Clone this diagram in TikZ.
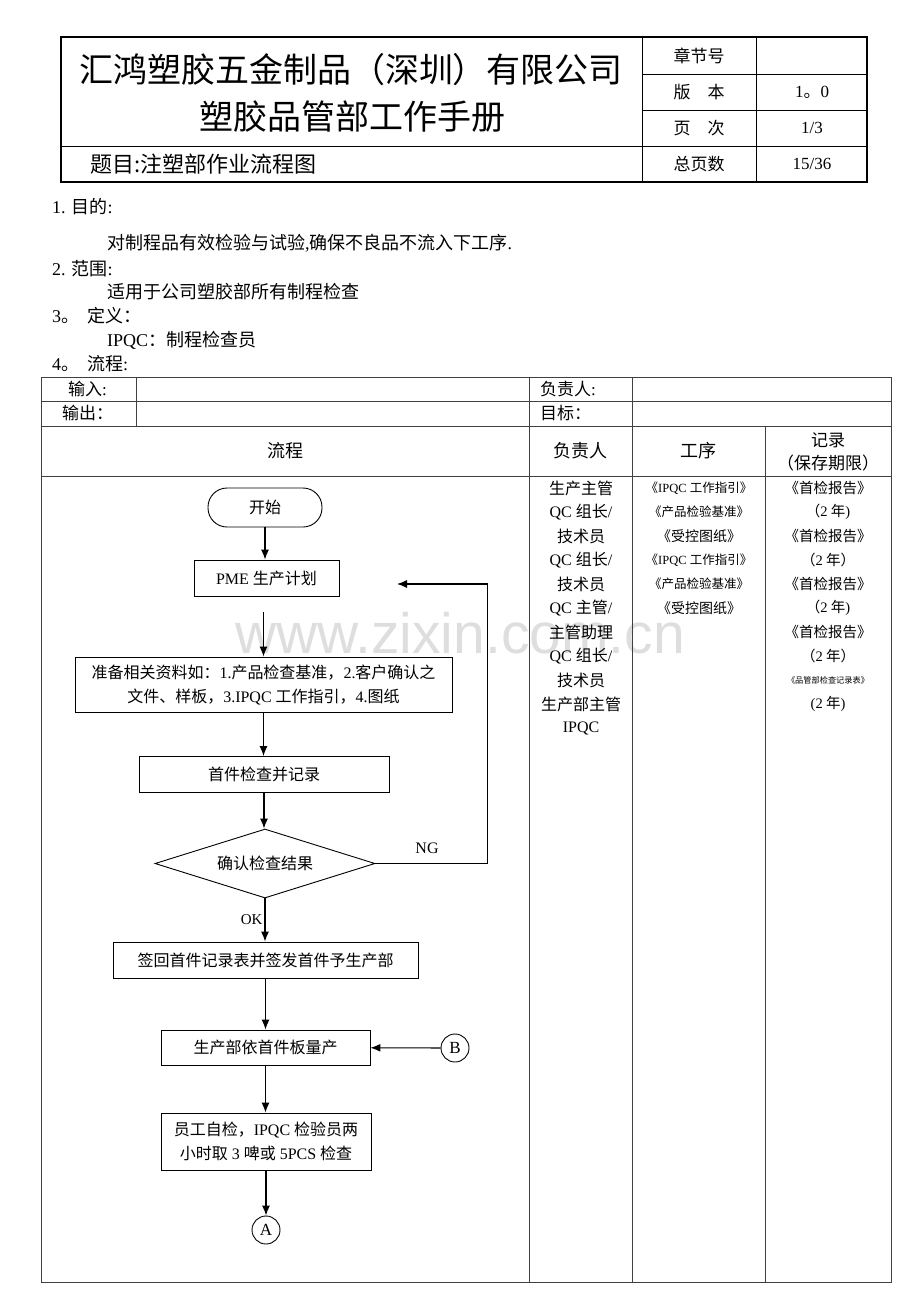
\documentclass[tikz,border=0pt]{standalone}
\usepackage{fontspec}
\setmainfont{Liberation Serif}
\newfontfamily\cjk{Noto Sans CJK SC}
\newfontfamily\filigrana{Liberation Sans}
\usetikzlibrary{shapes.geometric, arrows.meta, positioning}
\newcommand{\zh}[1]{{\cjk #1}}
\newcommand{\la}[1]{{\rmfamily #1}}
\newcommand{\fsz}[2]{\fontsize{#1}{#2}\selectfont}

\begin{document}
\begin{tikzpicture}[x=1pt, y=-1pt,
    tabella/.style={line width=0.9pt, black!75},
    blocco/.style={draw, line width=0.9pt, align=center, inner sep=0pt, font=\cjk\fsz{16}{24}},
    terminale/.style={blocco, rounded corners=19pt},
    decisione/.style={blocco, diamond, aspect=3.2},
    connettore/.style={draw, circle, line width=0.9pt, minimum size=28pt, inner sep=0pt, font=\fsz{17}{17}},
    freccia/.style={-{Latex[length=10pt, width=8pt]}, line width=1.1pt},
    testo/.style={anchor=west, inner sep=0pt, font=\fsz{18}{22}},
    cella/.style={inner sep=0pt, font=\cjk\fsz{17}{20}},
    etichetta/.style={inner sep=2pt, font=\fsz{15}{15}}]
    \useasboundingbox (0,0) rectangle (920,1302);

    % Filigrana
    \node[font=\filigrana\fsz{57}{57}, text=black!13] (marchio) at (460,633) {www.zixin.com.cn};

    % Intestazione
    \draw[line width=2.4pt] (61,37) rectangle (867,182);
    \draw[line width=1pt] (642,37) -- (642,182) (756,37) -- (756,182)
        (642,74) -- (867,74) (642,110) -- (867,110) (61,146) -- (867,146);
    \node[font=\cjk\fsz{34}{40}] (ditta) at (351,70) {汇鸿塑胶五金制品（深圳）有限公司};
    \node[font=\cjk\fsz{34}{40}] (manuale) at (352,117) {塑胶品管部工作手册};
    \node[font=\cjk\fsz{22}{26}, anchor=west, inner sep=0pt] (titolo) at (90,164) {题目:注塑部作业流程图};
    \node[cella] (capitolo) at (699,56) {章节号};
    \node[cella] (versione) at (699,92) {版　本};
    \node[cella] (pagina) at (699,128) {页　次};
    \node[cella] (totale) at (699,164) {总页数};
    \node[cella, font=\fsz{17}{20}] (versioneval) at (812,92) {1\zh{。}0};
    \node[cella, font=\fsz{17}{20}] (paginaval) at (812,128) {1/3};
    \node[cella, font=\fsz{17}{20}] (totaleval) at (812,164) {15/36};

    % Testo
    \node[testo] (scopo) at (52,207) {1. \zh{目的}:};
    \node[testo] (scopotxt) at (107,243) {\zh{对制程品有效检验与试验},\zh{确保不良品不流入下工序}.};
    \node[testo] (ambito) at (52,269) {2. \zh{范围}:};
    \node[testo] (ambitotxt) at (107,292) {\zh{适用于公司塑胶部所有制程检查}};
    \node[testo] (definizione) at (52,316) {3\zh{。}\hspace{8pt}\zh{定义：}};
    \node[testo] (definizionetxt) at (107,340) {IPQC\zh{：制程检查员}};
    \node[testo] (flusso) at (52,364) {4\zh{。}\hspace{8pt}\zh{流程}:};

    % Tabella
    \draw[tabella] (41,377) rectangle (891,1282);
    \draw[tabella] (41,401) -- (891,401) (41,426) -- (891,426) (41,476) -- (891,476);
    \draw[tabella] (136,377) -- (136,426) (529,377) -- (529,1282)
        (632,377) -- (632,1282) (765,426) -- (765,1282);
    \node[testo, font=\fsz{17}{20}] (ingresso) at (68,389) {\zh{输入}:};
    \node[testo, font=\cjk\fsz{17}{20}] (uscita) at (62,413) {输出：};
    \node[testo, font=\fsz{17}{20}] (resp) at (540,389) {\zh{负责人}:};
    \node[testo, font=\cjk\fsz{17}{20}] (obiettivo) at (540,413) {目标：};
    \node[cella, font=\cjk\fsz{18}{20}] (hflusso) at (285,451) {流程};
    \node[cella, font=\cjk\fsz{18}{20}] (hresp) at (580,451) {负责人};
    \node[cella, font=\cjk\fsz{18}{20}] (hproc) at (698,451) {工序};
    \node[cella, font=\cjk\fsz{17}{20}] (hreg) at (828,440) {记录};
    \node[cella, font=\cjk\fsz{17}{20}] (hperiodo) at (828,463) {（保存期限）};

    % Colonne
    \foreach \voce [count=\i from 0] in {生产主管, \la{QC }组长\la{/}, 技术员,
        \la{QC }组长\la{/}, 技术员, \la{QC }主管\la{/}, 主管助理,
        \la{QC }组长\la{/}, 技术员, 生产部主管, \la{IPQC}}
        \node[cella, font=\cjk\fsz{16}{20}] (resp-\i) at (581,488+24*\i) {\voce};
    \foreach \fs/\voce [count=\i from 0] in {12.5/《\la{IPQC }工作指引》, 12.5/《产品检验基准》,
        14/《受控图纸》, 12.5/《\la{IPQC }工作指引》, 12.5/《产品检验基准》, 14/《受控图纸》}
        \node[cella, font=\cjk\fsz{\fs}{20}] (proc-\i) at (699,488+24*\i) {\voce};
    \foreach \fs/\voce [count=\i from 0] in {14.5/《首检报告》, 14.5/（\la{2} 年\la{)}, 14.5/《首检报告》,
        14.5/（\la{2} 年）, 14.5/《首检报告》, 14.5/（\la{2} 年\la{)}, 14.5/《首检报告》,
        14.5/（\la{2} 年）, 8.2/《品管部检查记录表》, 14.5/\la{(2} 年\la{)}}
        \node[cella, font=\cjk\fsz{\fs}{20}] (reg-\i) at (828,488+24*\i) {\voce};

    % Diagramma di flusso
    \node[terminale, minimum width=114pt, minimum height=39pt] (inizio) at (265,507.5) {开始};
    \node[blocco, minimum width=145pt, minimum height=36pt] (piano) at (266.5,578) {\la{PME }生产计划};
    \node[blocco, minimum width=377pt, minimum height=55pt] (prep) at (263.5,684.5)
        {准备相关资料如：\la{1.}产品检查基准，\la{2.}客户确认之\\文件、样板，\la{3.IPQC }工作指引，\la{4.}图纸};
    \node[blocco, minimum width=250pt, minimum height=36pt] (primo) at (264,774.5) {首件检查并记录};
    \node[decisione, minimum width=220pt, minimum height=69pt] (verifica) at (265,863.5) {确认检查结果};
    \node[blocco, minimum width=305pt, minimum height=36pt] (firma) at (265.5,960) {签回首件记录表并签发首件予生产部};
    \node[blocco, minimum width=209pt, minimum height=35pt] (produzione) at (265.5,1047.5) {生产部依首件板量产};
    \node[blocco, minimum width=210pt, minimum height=57pt] (controllo) at (266,1141.5)
        {员工自检，\la{IPQC }检验员两\\小时取\la{ 3 }啤或\la{ 5PCS }检查};
    \node[connettore] (connB) at (455,1048) {B};
    \node[connettore] (connA) at (266,1230) {A};

    % Frecce
    \draw[freccia] (inizio) -- (inizio |- piano.north);
    \coordinate (avvio) at ([yshift=-16pt]piano.south);
    \draw[freccia] (prep.north |- avvio) -- (prep.north);
    \draw[freccia] (prep) -- (prep |- primo.north);
    \draw[freccia] (primo) -- (primo |- verifica.north);
    \coordinate (rientro) at (397,584);
    \draw[freccia] (verifica.east) -- ++(112,0) |- (rientro);
    \node[etichetta, font=\fsz{16}{16}] (ng) at (427,848) {NG};
    \draw[freccia] (verifica.south) -- (verifica.south |- firma.north) node[midway, left, etichetta] (ok) {OK};
    \draw[freccia] (firma) -- (firma |- produzione.north);
    \draw[freccia] (connB) -- (produzione);
    \draw[freccia] (produzione) -- (produzione |- controllo.north);
    \draw[freccia] (controllo) -- (connA);
\end{tikzpicture}
\end{document}
